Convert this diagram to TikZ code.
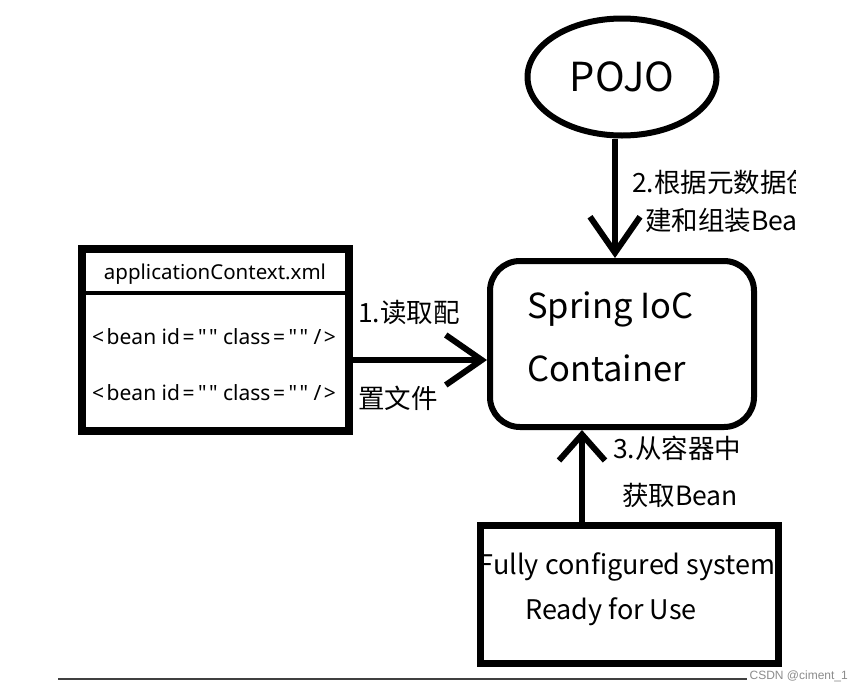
\documentclass[tikz,border=0pt]{standalone}
\usepackage{fontspec}
\setmainfont{Noto Sans CJK SC}
\newfontfamily\latinfont{Noto Sans}
\newfontfamily\wmfont{Liberation Sans}
\usetikzlibrary{arrows.meta,shapes.geometric}
\newcommand{\beanline}{<\kern2.5pt{}bean id\kern2.5pt{}=\kern3.5pt{}"\kern2.5pt{}"{} class\kern2.5pt{}=\kern3.5pt{}"\kern2.5pt{}"{} /\kern2.5pt{}>}
\begin{document}
\begin{tikzpicture}[x=1pt,y=-1pt,
 lbl/.style={anchor=west,inner sep=0pt,font=\fontsize{26.5}{26.5}\selectfont},
 codetxt/.style={anchor=west,inner sep=0pt,font=\latinfont\fontsize{21}{21}\selectfont},
 arr/.style={line width=6pt,-{Straight Barb[length=36pt,width=50pt,line width=6pt]}},
]
\useasboundingbox[fill=white] (0,0) rectangle (861,691);
% POJO
\node[ellipse,draw,line width=6pt,minimum width=189pt,minimum height=117pt,inner sep=0pt,font=\fontsize{40}{40}\selectfont] (pojo) at (622,77) {POJO};
% IoC container
\node[draw,line width=6pt,rounded corners=30pt,minimum width=264pt,minimum height=166pt,inner sep=0pt] (ioc) at (622,344) {};
\node[anchor=west,inner sep=0pt,font=\fontsize{34.5}{34.5}\selectfont] (ioc1) at (527,309) {Spring IoC};
\node[anchor=west,inner sep=0pt,font=\fontsize{34.5}{34.5}\selectfont] (ioc2) at (527,368) {Container};
% xml box
\node[draw,line width=8pt,minimum width=267pt,minimum height=182pt,inner sep=0pt] (xml) at (215.5,340) {};
\coordinate (sepL) at (82,293);
\coordinate (sepR) at (349,293);
\draw[line width=4pt] (sepL) -- (sepR);
\node[inner sep=0pt,font=\latinfont\fontsize{20.5}{20.5}\selectfont] (xmlname) at (215,274) {applicationContext.xml};
\node[codetxt] (bean1) at (92,337) {\beanline};
\node[codetxt] (bean2) at (92,393) {\beanline};
% system box
\begin{scope}
\clip (484,526) rectangle (775,663);
\node[inner sep=0pt,font=\fontsize{27}{27}\selectfont] (sys1) at (627,567) {Fully configured system};
\end{scope}
\node[inner sep=0pt,font=\fontsize{27}{27}\selectfont] (sys2) at (611,612) {Ready for Use};
\node[draw,line width=7pt,minimum width=298pt,minimum height=138pt,inner sep=0pt] (sys) at (629.5,594.5) {};
% arrows
\draw[arr] ([yshift=-20pt]xml.east) -- ([yshift=-16pt]ioc.west);
\draw[arr] ([xshift=-7pt]pojo.south) -- ([xshift=-7pt]ioc.north);
\draw[arr,-{Straight Barb[length=26pt,width=46pt,line width=6pt]}] ([xshift=-47.5pt]sys.north) -- ([xshift=-40pt]ioc.south);
% labels
\node[lbl] (l1a) at (358,312) {1.读取配};
\node[lbl] (l1b) at (358,398) {置文件};
\begin{scope}
\clip (0,0) rectangle (795,691);
\node[lbl] (l2a) at (632,182) {2.根据元数据创};
\node[lbl] (l2b) at (645,220) {建和组装Bean};
\end{scope}
\node[lbl] (l3a) at (613,448) {3.从容器中};
\node[lbl] (l3b) at (622,495) {获取Bean};
% footer
\coordinate (footL) at (58,679);
\coordinate (footR) at (747,679);
\draw[line width=1.5pt,black!75] (footL) -- (footR);
\node[anchor=east,inner sep=0pt,text=black!45,font=\wmfont\fontsize{12}{12}\selectfont] (wm) at (848,676) {CSDN @ciment\_1};
\end{tikzpicture}
\end{document}
